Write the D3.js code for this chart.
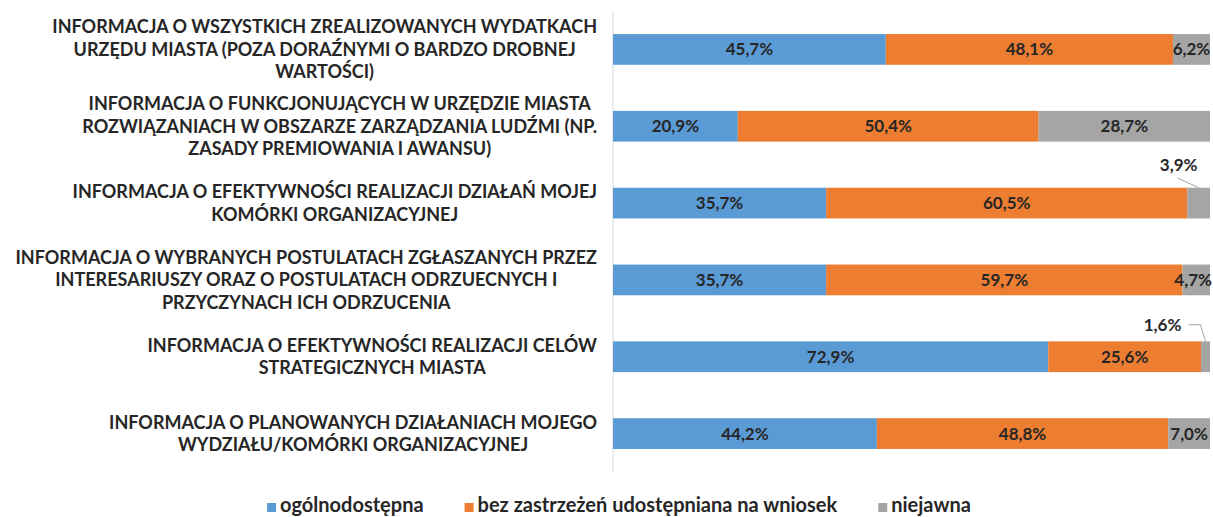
<!DOCTYPE html>
<html>
<head>
<meta charset="utf-8">
<script src="https://cdn.jsdelivr.net/npm/d3@7"></script>
<style>
  body { margin: 0; background: #fff; overflow: hidden; }
  svg { font-family: Lato, "Open Sans", sans-serif; font-weight: bold; display: block; }
</style>
</head>
<body>
<div id="chart"></div>
<script>
let categories = [
  ["INFORMACJA O WSZYSTKICH ZREALIZOWANYCH WYDATKACH", "URZĘDU MIASTA (POZA DORAŹNYMI O BARDZO DROBNEJ", "WARTOŚCI)"],
  ["INFORMACJA O FUNKCJONUJĄCYCH W URZĘDZIE MIASTA", "ROZWIĄZANIACH W OBSZARZE ZARZĄDZANIA LUDŹMI (NP.", "ZASADY PREMIOWANIA I AWANSU)"],
  ["INFORMACJA O EFEKTYWNOŚCI REALIZACJI DZIAŁAŃ MOJEJ", "KOMÓRKI ORGANIZACYJNEJ"],
  ["INFORMACJA O WYBRANYCH POSTULATACH ZGŁASZANYCH PRZEZ", "INTERESARIUSZY ORAZ O POSTULATACH ODRZUECNYCH I", "PRZYCZYNACH ICH ODRZUCENIA"],
  ["INFORMACJA O EFEKTYWNOŚCI REALIZACJI CELÓW", "STRATEGICZNYCH MIASTA"],
  ["INFORMACJA O PLANOWANYCH DZIAŁANIACH MOJEGO", "WYDZIAŁU/KOMÓRKI ORGANIZACYJNEJ"]
];
let seriesNames = ["ogólnodostępna", "bez zastrzeżeń udostępniana na wniosek", "niejawna"];
let ogolnodostepna = [45.7, 20.9, 35.7, 35.7, 72.9, 44.2];
let naWniosek = [48.1, 50.4, 60.5, 59.7, 25.6, 48.8];
let niejawna = [6.2, 28.7, 3.9, 4.7, 1.6, 7.0];

let colors = ["#5B9BD5", "#ED7D31", "#A5A5A5"];

// labels of small gray segments that sit above the bar with a leader line
let callouts = {
  2: {dx: -20, dy: -38, path: "diag"},
  4: {dx: -43, dy: -32, path: "elbow"}
};

let W = 1213, H = 517;
let margin = {top: 11, right: 3, bottom: 45, left: 613};
let width = W - margin.left - margin.right,
    height = H - margin.top - margin.bottom;

let svg = d3.select("#chart").append("svg")
  .attr("width", W).attr("height", H);

let g = svg.append("g")
  .attr("transform", "translate(" + margin.left + "," + margin.top + ")");

let x = d3.scaleLinear().domain([0, 100]).range([0, width]);
let y = d3.scaleBand().domain(d3.range(categories.length)).range([0, height]).paddingInner(0.6).paddingOuter(0.3);

let rows = categories.map((c, i) => ({i: i, vals: [ogolnodostepna[i], naWniosek[i], niejawna[i]]}));
let stack = d3.stack().keys([0, 1, 2]).value((d, k) => d.vals[k]);
let layers = stack(rows);

// axis line
g.append("line")
  .attr("x1", 0).attr("x2", 0).attr("y1", 0).attr("y2", height)
  .style("stroke", "#D9D9D9");

layers.forEach((layer, k) => {
  let lg = g.append("g");
  lg.selectAll("rect").data(layer).enter().append("rect")
    .attr("x", d => x(d[0]))
    .attr("y", d => y(d.data.i))
    .attr("width", d => Math.min(x(d[1]), width) - x(d[0]))
    .attr("height", y.bandwidth())
    .style("fill", colors[k]);

  lg.selectAll("text").data(layer).enter().append("text")
    .attr("text-anchor", "middle")
    .attr("dy", "0.35em")
    .style("font-size", "17px")
    .style("fill", "#262626")
    .each(function (d) {
      let t = d3.select(this);
      let v = d.data.vals[k];
      t.text(v.toFixed(1).replace(".", ",") + "%");
      let cx = (x(d[0]) + Math.min(x(d[1]), width)) / 2;
      let cy = y(d.data.i) + y.bandwidth() / 2;
      let co = k == 2 ? callouts[d.data.i] : null;
      if (co) {
        let lx = cx + co.dx, ly = cy + co.dy;
        t.attr("x", lx).attr("y", ly);
        let top = y(d.data.i);
        let p;
        if (co.path == "diag") {
          p = [[lx - 1, ly + 13], [cx, top]];
        } else {
          p = [[lx + 26, ly], [lx + 38, ly], [cx, top]];
        }
        lg.append("path")
          .attr("d", d3.line()(p))
          .style("fill", "none")
          .style("stroke", "#A6A6A6");
      } else {
        // keep label inside the picture
        let half = this.getComputedTextLength() / 2;
        let maxX = width + margin.right - 1 - half;
        t.attr("x", Math.min(cx, maxX)).attr("y", cy);
      }
    });
});

// category labels: block right aligned, lines centred in block
let labels = svg.append("g");
categories.forEach((lines, i) => {
  let cy = margin.top + y(i) + y.bandwidth() / 2;
  let lh = 22.5;
  let grp = labels.append("g");
  let texts = lines.map((s, j) => grp.append("text")
    .attr("y", cy + (j - (lines.length - 1) / 2) * lh)
    .attr("dy", "0.36em")
    .attr("text-anchor", "middle")
    .style("font-size", "18px")
    .style("fill", "#262626")
    .text(s));
  let maxW = d3.max(texts, t => t.node().getComputedTextLength());
  let right = 597;
  texts.forEach(t => t.attr("x", right - maxW / 2));
});

// legend, centred under the chart
let legend = svg.append("g");
let lx = 0;
seriesNames.forEach((name, k) => {
  legend.append("rect")
    .attr("x", lx).attr("y", 503).attr("width", 9).attr("height", 9)
    .style("fill", colors[k]);
  let t = legend.append("text")
    .attr("x", lx + 13).attr("y", 512)
    .style("font-size", "20px")
    .style("fill", "#262626")
    .text(name);
  lx += 13 + t.node().getComputedTextLength() + (k < 2 ? 41 : 0);
});
legend.attr("transform", "translate(" + (619 - lx / 2) + ",0)");
</script>
</body>
</html>
